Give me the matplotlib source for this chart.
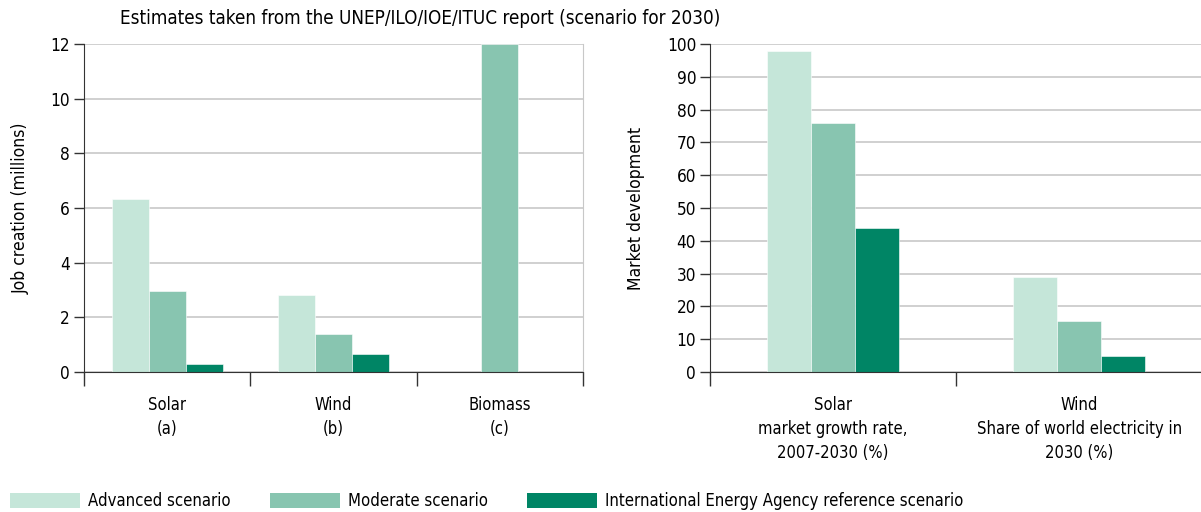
import matplotlib
matplotlib.use("Agg")
import matplotlib.pyplot as plt
from matplotlib import font_manager
from matplotlib.font_manager import FontProperties
from matplotlib.patches import Patch

# the reference uses a condensed face; take one if it is installed
names = {f.name for f in font_manager.fontManager.ttflist}
scale = 0.86
if "Liberation Sans Narrow" in names:
    plt.rcParams["font.family"] = ["Liberation Sans Narrow", "DejaVu Sans"]
    scale = 1.0
else:
    plt.rcParams["font.family"] = ["DejaVu Sans"]
    path = font_manager.findfont(FontProperties(family="DejaVu Sans", stretch="condensed"))
    if "Condensed" in path:
        plt.rcParams["font.stretch"] = "condensed"
        scale = 0.95

# data
scenarios = ["Advanced scenario", "Moderate scenario",
             "International Energy Agency reference scenario"]
colors = ["#c5e6d9", "#88c5b0", "#008565"]

job_cats = ["Solar\n(a)", "Wind\n(b)", "Biomass\n(c)"]
job_advanced = [6.33, 2.8, 0]
job_moderate = [2.97, 1.4, 12.0]
job_iea = [0.3, 0.66, 0]

mkt_cats = ["Solar\nmarket growth rate,\n2007-2030 (%)",
            "Wind\nShare of world electricity in\n2030 (%)"]
mkt_advanced = [98, 29]
mkt_moderate = [76, 15.6]
mkt_iea = [44, 5]

fs_tick = 13 * scale
fs_cat = 12.5 * scale
fs_label = 13.3 * scale
fs_title = 14.2 * scale
fs_leg = 12.6 * scale

fig = plt.figure(figsize=(12.01, 5.12), dpi=100)
ax1 = fig.add_axes([0.0699, 0.2734, 0.4155, 0.6406])
ax2 = fig.add_axes([0.5912, 0.2734, 0.4097, 0.6406])


def draw(ax, cats, series, width, ymax, ystep):
    n = len(cats)
    centers = [i + 0.5 for i in range(n)]
    for k, vals in enumerate(series):
        xs = [c + (k - 1) * width for c in centers]
        ax.bar(xs, vals, width=width, color=colors[k], edgecolor="white",
               linewidth=0.4, zorder=2)
    ax.set_xlim(0, n)
    ax.set_ylim(0, ymax)
    ax.set_yticks(range(0, ymax + 1, ystep))
    ax.set_xticks(range(n + 1))
    ax.set_xticklabels([])
    ax.set_xticks(centers, minor=True)
    ax.set_xticklabels(cats, minor=True, fontsize=fs_cat, linespacing=1.45)
    ax.tick_params(axis="x", which="major", length=10, width=1, color="#333333")
    ax.tick_params(axis="x", which="minor", length=0, pad=17)
    ax.tick_params(axis="y", length=7, width=1, color="#333333",
                   labelsize=fs_tick, pad=3)
    ax.yaxis.grid(True, color="#c8c8c8", linewidth=1.2, zorder=0)
    ax.set_axisbelow(True)
    ax.spines["top"].set_visible(False)
    ax.spines["right"].set_color("#c8c8c8")
    ax.spines["left"].set_color("#333333")
    ax.spines["bottom"].set_color("#333333")
    ax.spines["bottom"].set_zorder(3)


draw(ax1, job_cats, [job_advanced, job_moderate, job_iea], 0.222, 12, 2)
draw(ax2, mkt_cats, [mkt_advanced, mkt_moderate, mkt_iea], 0.179, 100, 10)
ax2.spines["right"].set_visible(False)

ax1.set_ylabel("Job creation (millions)", fontsize=fs_label, labelpad=15)
ax2.set_ylabel("Market development", fontsize=fs_label, labelpad=16)

fig.text(0.1, 0.963, "Estimates taken from the UNEP/ILO/IOE/ITUC report (scenario for 2030)",
         fontsize=fs_title, va="center", ha="left")

# one legend entry per box, each placed where the reference has it
px = fs_leg * 100 / 72
for name, col, x0 in zip(scenarios, colors, [10, 270, 527]):
    fig.legend([Patch(facecolor=col, edgecolor="none")], [name],
               loc="lower left", bbox_to_anchor=(x0 / 1201, 0.004),
               frameon=False, fontsize=fs_leg, handlelength=70 / px,
               handleheight=17 / px, handletextpad=8 / px,
               borderpad=0, borderaxespad=0)

fig.savefig("out.png", dpi=100)
